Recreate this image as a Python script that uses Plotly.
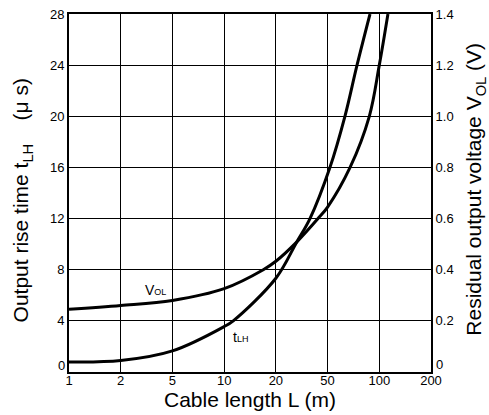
import numpy as np
import plotly.graph_objects as go

# Tick values of the cable length axis (equally spaced on the chart)
x_ticks = [1, 2, 5, 10, 20, 50, 100, 200]
x_tick_labels = ["1", "2", "5", "10", "20", "50", "100", "200"]
y_left_ticks = [4, 8, 12, 16, 20, 24, 28]
y_left_labels = ["4", "8", "12", "16", "20", "24", "28"]
y_right_ticks = [0.2, 0.4, 0.6, 0.8, 1.0, 1.2, 1.4]
y_right_labels = ["0.2", "0.4", "0.6", "0.8", "1.0", "1.2", "1.4"]
zero_label = "0"

# Output rise time tLH (us) vs cable length (m)
tlh_length = [1, 2, 5, 10, 11.3, 20, 28.9, 36.6, 51.6, 63.1, 74.2, 88.3]
tlh_values = [0.79, 0.9, 1.65, 3.55, 4.0, 7.33, 10.15, 12.0, 16.0, 20.0, 24.0, 28.0]

# Residual output voltage VOL (V) vs cable length (m)
vol_length = [1, 2, 5, 10, 16.9, 20, 28.9, 42.2, 50, 67.6, 87.5, 100, 112.3]
vol_values = [0.245, 0.26, 0.28, 0.326, 0.4, 0.433, 0.508, 0.6, 0.645, 0.8, 1.0, 1.2, 1.4]

# The axis places the ticks 1-2-5-10... at equal spacing; map lengths onto it
tick_pos = np.arange(len(x_ticks))
def axis_pos(lengths):
    return np.interp(np.log10(lengths), np.log10(x_ticks), tick_pos)

FONT = "Liberation Sans, Arial, Helvetica, sans-serif"

fig = go.Figure()
fig.add_trace(go.Scatter(
    x=axis_pos(tlh_length), y=tlh_values, mode="lines",
    line=dict(color="black", width=3, shape="spline", smoothing=1.0),
    showlegend=False, yaxis="y", hoverinfo="skip"))
fig.add_trace(go.Scatter(
    x=axis_pos(vol_length), y=vol_values, mode="lines",
    line=dict(color="black", width=3, shape="spline", smoothing=1.0),
    showlegend=False, yaxis="y2", hoverinfo="skip"))

fig.update_layout(
    width=489, height=415,
    margin=dict(l=69, r=58, t=7, b=43),
    paper_bgcolor="white", plot_bgcolor="white",
    font=dict(family=FONT, size=13, color="black"),
    xaxis=dict(
        range=[0, 7], tickvals=list(tick_pos), ticktext=x_tick_labels,
        showgrid=True, gridcolor="black", gridwidth=1,
        showline=True, linecolor="black", linewidth=2, mirror=True,
        ticks="", zeroline=False, tickfont=dict(size=13),
        ticklabelstandoff=-5),
    yaxis=dict(
        range=[0, 28], tickvals=y_left_ticks, ticktext=y_left_labels,
        showgrid=True, gridcolor="black", gridwidth=1,
        showline=True, linecolor="black", linewidth=2, mirror=True,
        ticks="", zeroline=False, tickfont=dict(size=13)),
    yaxis2=dict(
        range=[0, 1.4], tickvals=y_right_ticks, ticktext=y_right_labels,
        overlaying="y", side="right", showgrid=False,
        showline=True, linecolor="black", linewidth=2,
        ticks="", zeroline=False, tickfont=dict(size=13)),
)

# Zero labels sit slightly above the bottom axis, as in the original
fig.add_annotation(text=zero_label, xref="paper", yref="paper", x=0, y=0,
                   xanchor="right", yanchor="middle", xshift=-2, yshift=7,
                   showarrow=False, font=dict(size=13))
fig.add_annotation(text=zero_label, xref="paper", yref="paper", x=1, y=0,
                   xanchor="left", yanchor="middle", xshift=3, yshift=8,
                   showarrow=False, font=dict(size=13))

# Axis titles
fig.add_annotation(
    text="Output rise time t<sub>LH</sub>\u00a0\u00a0\u00a0\u00a0(\u03bc s)",
    xref="paper", yref="paper", x=-0.13, y=0.479, textangle=-90,
    showarrow=False, xanchor="center", yanchor="middle", font=dict(size=21))
fig.add_annotation(
    text="Residual output voltage V<sub>OL</sub> (V)",
    xref="paper", yref="paper", x=1.1215, y=0.512, textangle=-90,
    showarrow=False, xanchor="center", yanchor="middle", font=dict(size=21))
fig.add_annotation(
    text="Cable length L (m)",
    xref="paper", yref="paper", x=0.5, y=-0.077,
    showarrow=False, xanchor="center", yanchor="middle", font=dict(size=21))

# Curve labels
fig.add_annotation(
    text="V<span style='font-size:9px'>OL</span>",
    xref="x", yref="y", x=1.68, y=6.4, showarrow=False,
    xanchor="center", yanchor="middle", font=dict(size=14))
fig.add_annotation(
    text="t<span style='font-size:9px'>LH</span>",
    xref="x", yref="y", x=3.31, y=2.7, showarrow=False,
    xanchor="center", yanchor="middle", font=dict(size=14))

fig.write_html("out.html", config={"displayModeBar": False},
               post_script="document.body.style.margin='0px';")
